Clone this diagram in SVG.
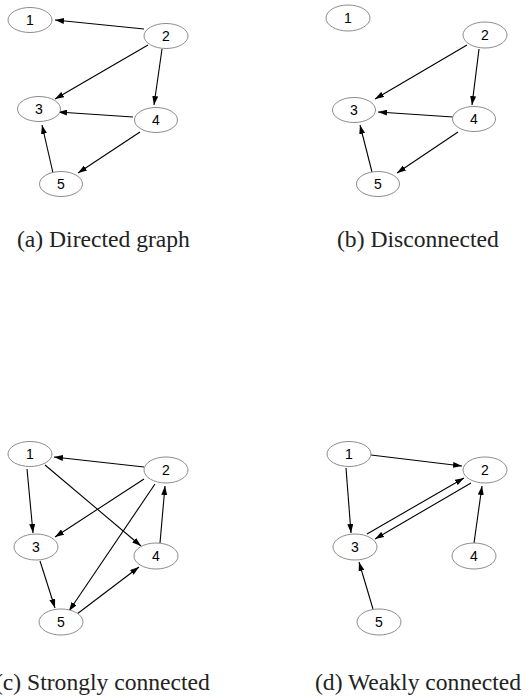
<svg xmlns="http://www.w3.org/2000/svg" width="529" height="700" viewBox="0 0 529 700">
<style>
.n ellipse{fill:#fff;stroke:#8c8c8c;stroke-width:1}
.n text{font-family:"Liberation Sans",Arial,sans-serif;font-size:14px;text-anchor:middle;fill:#000}
.e line{stroke:#000;stroke-width:1.1;marker-end:url(#ah)}
.cap{font-family:"Liberation Serif","Times New Roman",serif;font-size:23.6px;fill:#222}
</style>
<defs>
<marker id="ah" markerUnits="userSpaceOnUse" markerWidth="9" markerHeight="6" refX="9" refY="3" orient="auto">
<path d="M0,0 L9,3 L0,6 z" fill="#000"/>
</marker>
</defs>
<rect width="529" height="700" fill="#fff"/>

<g id="edges" class="e">
<!-- (a) -->
<line x1="144" y1="29" x2="55" y2="20"/>
<line x1="148" y1="45" x2="55" y2="99"/>
<line x1="162" y1="49" x2="154" y2="105"/>
<line x1="133" y1="117" x2="58" y2="112"/>
<line x1="140" y1="132" x2="78" y2="173"/>
<line x1="53" y1="173" x2="42" y2="125"/>
<!-- (b) -->
<line x1="467" y1="45" x2="375" y2="99"/>
<line x1="479" y1="49" x2="472" y2="105"/>
<line x1="453" y1="117" x2="378" y2="112"/>
<line x1="458" y1="132" x2="397" y2="173"/>
<line x1="372" y1="172" x2="360" y2="125"/>
<!-- (c) -->
<line x1="144" y1="467" x2="54" y2="457"/>
<line x1="27" y1="469" x2="33" y2="533"/>
<line x1="45" y1="465" x2="141" y2="546"/>
<line x1="144" y1="479" x2="55" y2="537"/>
<line x1="155" y1="484" x2="69" y2="611"/>
<line x1="160" y1="543" x2="165" y2="486"/>
<line x1="40" y1="561" x2="55" y2="608"/>
<line x1="77" y1="614" x2="139" y2="567"/>
<!-- (d) -->
<line x1="371" y1="455" x2="462" y2="466"/>
<line x1="346" y1="468" x2="351" y2="533"/>
<line x1="367" y1="534" x2="464" y2="478"/>
<line x1="471" y1="483" x2="375" y2="539"/>
<line x1="474" y1="543" x2="482" y2="486"/>
<line x1="373" y1="609" x2="359" y2="562"/>
</g>

<!-- (a) nodes -->
<g id="a1" class="n"><ellipse cx="30" cy="20" rx="22" ry="12.5"/><text x="30" y="25">1</text></g>
<g id="a2" class="n"><ellipse cx="166" cy="36" rx="22" ry="12.5"/><text x="166" y="41">2</text></g>
<g id="a3" class="n"><ellipse cx="39" cy="109" rx="21.5" ry="12.5"/><text x="39" y="114">3</text></g>
<g id="a4" class="n"><ellipse cx="156" cy="120" rx="21.5" ry="12.5"/><text x="156" y="125">4</text></g>
<g id="a5" class="n"><ellipse cx="61" cy="184" rx="21.5" ry="12.5"/><text x="61" y="189">5</text></g>
<!-- (b) nodes -->
<g id="b1" class="n"><ellipse cx="348" cy="18" rx="22" ry="13"/><text x="348" y="23">1</text></g>
<g id="b2" class="n"><ellipse cx="485" cy="35" rx="22" ry="13"/><text x="485" y="40">2</text></g>
<g id="b3" class="n"><ellipse cx="354" cy="110" rx="21.5" ry="12.5"/><text x="354" y="115">3</text></g>
<g id="b4" class="n"><ellipse cx="474" cy="119" rx="21.5" ry="12.5"/><text x="474" y="124">4</text></g>
<g id="b5" class="n"><ellipse cx="378" cy="184" rx="21.5" ry="12.5"/><text x="378" y="189">5</text></g>
<!-- (c) nodes -->
<g id="c1" class="n"><ellipse cx="30" cy="454" rx="22" ry="12.5"/><text x="30" y="459">1</text></g>
<g id="c2" class="n"><ellipse cx="166" cy="470" rx="22" ry="13"/><text x="166" y="475">2</text></g>
<g id="c3" class="n"><ellipse cx="36" cy="547" rx="22" ry="13"/><text x="36" y="552">3</text></g>
<g id="c4" class="n"><ellipse cx="156" cy="556" rx="22" ry="13"/><text x="156" y="561">4</text></g>
<g id="c5" class="n"><ellipse cx="61" cy="622" rx="22" ry="13"/><text x="61" y="627">5</text></g>
<!-- (d) nodes -->
<g id="d1" class="n"><ellipse cx="349" cy="454" rx="22" ry="12.5"/><text x="349" y="459">1</text></g>
<g id="d2" class="n"><ellipse cx="485" cy="470" rx="22" ry="13"/><text x="485" y="475">2</text></g>
<g id="d3" class="n"><ellipse cx="355" cy="547" rx="22" ry="13"/><text x="355" y="552">3</text></g>
<g id="d4" class="n"><ellipse cx="474" cy="556" rx="22" ry="13"/><text x="474" y="561">4</text></g>
<g id="d5" class="n"><ellipse cx="379" cy="622" rx="22" ry="13"/><text x="379" y="627">5</text></g>

<g id="captions">
<text class="cap" x="17" y="247">(a) Directed graph</text>
<text class="cap" x="337" y="247">(b) Disconnected</text>
<text class="cap" x="-5" y="690">(c) Strongly connected</text>
<text class="cap" x="315" y="690">(d) Weakly connected</text>
</g>
</svg>
